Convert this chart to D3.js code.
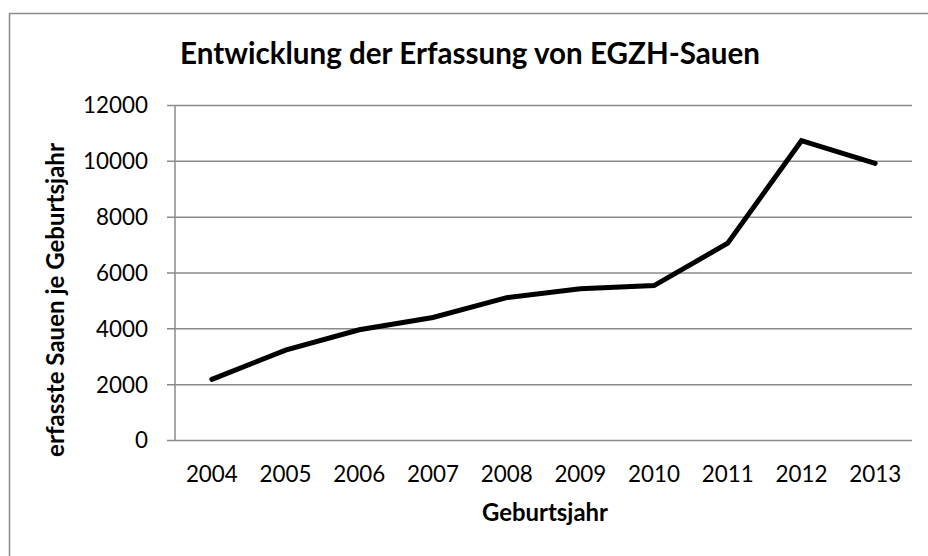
<!DOCTYPE html>
<html>
<head>
<meta charset="utf-8">
<script src="https://cdn.jsdelivr.net/npm/d3@7"></script>
<style>
  html, body { margin: 0; padding: 0; background: #fff; }
  svg { display: block; }
  text { font-family: Lato, "Open Sans", sans-serif; fill: #000; }
</style>
</head>
<body>
<svg id="chart" width="928" height="556"></svg>
<script>
const years = ["2004", "2005", "2006", "2007", "2008", "2009", "2010", "2011", "2012", "2013"];
const values = [2170, 3220, 3950, 4390, 5100, 5420, 5530, 7050, 10720, 9910];
const yTicks = [0, 2000, 4000, 6000, 8000, 10000, 12000];
const titleText = "Entwicklung der Erfassung von EGZH-Sauen";
const xTitleText = "Geburtsjahr";
const yTitleText = "erfasste Sauen je Geburtsjahr";

const svg = d3.select("#chart");
const W = 928, H = 556;
const plot = { left: 175, right: 912, top: 105, bottom: 440 };
const gray = "#8a8a8a";

// chart border (only left/top visible, cropped at right/bottom)
svg.append("rect")
  .attr("x", 9.5).attr("y", 13.5)
  .attr("width", W + 20).attr("height", H + 20)
  .attr("fill", "#fff").attr("stroke", gray).attr("stroke-width", 1.5);

const x = d3.scaleBand().domain(years).range([plot.left, plot.right]);
const y = d3.scaleLinear().domain([0, 12000]).range([plot.bottom, plot.top]);

function fitSize(sel, target, start) {
  sel.style("font-size", start + "px");
  const w = sel.node().getComputedTextLength();
  sel.style("font-size", (start * target / w) + "px");
}

// Y axis with gridlines
const yAxis = svg.append("g")
  .attr("transform", `translate(${plot.left},0)`)
  .call(d3.axisLeft(y).tickValues(yTicks).tickSize(8).tickPadding(19).tickFormat(d3.format("d")));
yAxis.select(".domain").remove();
yAxis.selectAll(".tick line").attr("stroke", gray).attr("stroke-width", 1.5)
  .attr("x1", -8).attr("x2", plot.right - plot.left);
yAxis.selectAll(".tick text").style("font-family", "Lato, 'Open Sans', sans-serif")
  .style("font-size", "22.4px").attr("fill", "#000").attr("dy", "0.35em");
svg.append("line")
  .attr("x1", plot.left).attr("x2", plot.left)
  .attr("y1", plot.top).attr("y2", plot.bottom)
  .attr("stroke", gray).attr("stroke-width", 1.5);

// X axis
const xAxis = svg.append("g")
  .attr("transform", `translate(0,${plot.bottom})`)
  .call(d3.axisBottom(x).tickSize(0).tickPadding(26));
xAxis.select(".domain").remove();
xAxis.selectAll(".tick text").style("font-family", "Lato, 'Open Sans', sans-serif")
  .style("font-size", "22.4px").attr("fill", "#000");

// Line
const line = d3.line()
  .x((d, i) => x(years[i]) + x.bandwidth() / 2)
  .y(d => y(d));
svg.append("path")
  .datum(values)
  .attr("d", line)
  .attr("fill", "none")
  .attr("stroke", "#000")
  .attr("stroke-width", 5)
  .attr("stroke-linejoin", "miter")
  .attr("stroke-linecap", "round");

// Title
const title = svg.append("text")
  .attr("x", 470).attr("y", 64)
  .attr("text-anchor", "middle")
  .style("font-weight", "bold")
  .text(titleText);
fitSize(title, 580, 25);

// X title
const xt = svg.append("text")
  .attr("x", 545).attr("y", 521)
  .attr("text-anchor", "middle")
  .style("font-weight", "bold")
  .text(xTitleText);
fitSize(xt, 126, 20);

// Y title
const yt = svg.append("text")
  .attr("transform", "translate(64,300) rotate(-90)")
  .attr("text-anchor", "middle")
  .style("font-weight", "bold")
  .text(yTitleText);
fitSize(yt, 314, 20);
</script>
</body>
</html>
